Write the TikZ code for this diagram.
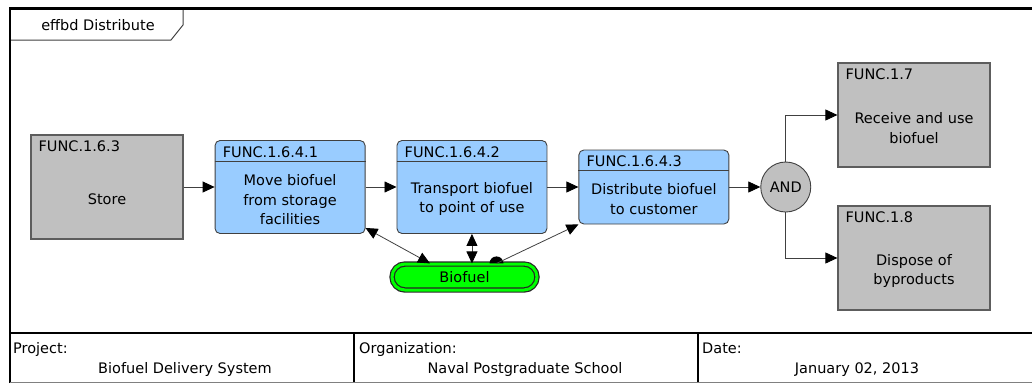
\documentclass[tikz,border=0pt]{standalone}
\usepackage{fontspec}
\setmainfont{DejaVu Sans}
\usetikzlibrary{arrows.meta,positioning,calc}
\definecolor{funcblue}{RGB}{153,204,255}
\definecolor{funcgray}{RGB}{192,192,192}
\definecolor{itemgreen}{RGB}{0,255,0}
\definecolor{edgegray}{RGB}{64,64,64}
\newcommand\diagfont{\fontsize{14.5pt}{19.5pt}\selectfont}
\tikzset{
  graybox/.style={draw=edgegray!85,fill=funcgray,line width=1.2pt,
    minimum width=152pt,minimum height=104pt,inner sep=0pt},
  bluebox/.style={draw=edgegray,fill=funcblue,rounded corners=5pt,line width=0.9pt,
    minimum width=150pt,minimum height=93pt,inner sep=0pt},
  funcid/.style={anchor=north west,inner xsep=8pt,inner ysep=6pt,font=\diagfont},
  functext/.style={align=center,font=\diagfont,inner sep=0pt},
  hdrline/.style={draw=edgegray,line width=0.9pt},
  andgate/.style={circle,draw=edgegray,fill=funcgray,line width=0.9pt,
    minimum size=50pt,inner sep=0pt,font=\diagfont},
  itembox/.style={draw=black!85,double=itemgreen,double distance=3pt,line width=1.2pt,
    fill=itemgreen,rounded corners=13pt,minimum width=145pt,minimum height=26pt,font=\diagfont},
  flowarrow/.style={-{Triangle[length=12pt,width=11pt,color=black]},draw=edgegray,line width=0.8pt},
  bothflow/.style={{Triangle[length=12pt,width=11pt,color=black]}-{Triangle[length=12pt,width=11pt,color=black]},
    draw=edgegray,line width=0.8pt},
  frameline/.style={draw=black,line width=2.5pt},
  tabline/.style={draw=edgegray,line width=1pt,fill=white},
  footline/.style={draw=black,line width=2pt},
  footlabel/.style={anchor=base west,font=\diagfont,inner sep=0pt},
  footval/.style={anchor=base,font=\diagfont,inner sep=0pt},
}
\begin{document}
\begin{tikzpicture}[x=1pt,y=-1pt,node distance=31pt]
    \useasboundingbox (0,0) rectangle (1032,383);
    \draw[tabline] (10,8.5) -- (183,8.5) -- (183,25) -- (171,40) -- (10,40);
    \node[functext] (title) at (98,25) {effbd Distribute};
    \draw[frameline] (10,383) -- (10,8.5) -- (1045,8.5);
    \draw[footline] (10,333) -- (1045,333);
    \draw[footline] (354,333) -- (354,383);
    \draw[footline] (698,333) -- (698,383);
    \draw[draw=gray,line width=1pt] (10,382.5) -- (1045,382.5);
    \node[footlabel] (projlbl) at (13,353) {Project:};
    \node[footval] (projval) at (185,373) {Biofuel Delivery System};
    \node[footlabel] (orglbl) at (359,353) {Organization:};
    \node[footval] (orgval) at (525,373) {Naval Postgraduate School};
    \node[footlabel] (datelbl) at (702,353) {Date:};
    \node[footval] (dateval) at (857,373) {January 02, 2013};

    \node[graybox] (f163) at (107,187) {};
    \node[bluebox,right=of f163] (f41) {};
    \node[bluebox,right=of f41] (f42) {};
    \node[bluebox,right=of f42,minimum height=74pt] (f43) {};
    \node[andgate,right=of f43] (andg) {AND};
    \node[graybox] (f17) at (914,115) {};
    \node[graybox] (f18) at (914,258) {};
    \node[itembox] (bio) at (464.5,277) {Biofuel};

    \draw[hdrline] ([yshift=-21pt]f41.north west) -- ([yshift=-21pt]f41.north east);
    \draw[hdrline] ([yshift=-21pt]f42.north west) -- ([yshift=-21pt]f42.north east);
    \draw[hdrline] ([yshift=-21pt]f43.north west) -- ([yshift=-21pt]f43.north east);

    \node[funcid] (f163id) at (f163.north west) {FUNC.1.6.3};
    \node[funcid] (f41id) at (f41.north west) {FUNC.1.6.4.1};
    \node[funcid] (f42id) at (f42.north west) {FUNC.1.6.4.2};
    \node[funcid] (f43id) at (f43.north west) {FUNC.1.6.4.3};
    \node[funcid] (f17id) at (f17.north west) {FUNC.1.7};
    \node[funcid] (f18id) at (f18.north west) {FUNC.1.8};

    \node[functext] (f163txt) at ([yshift=-12pt]f163.center) {Store};
    \node[functext] (f41txt) at ([yshift=-13pt]f41.center) {Move biofuel\\from storage\\facilities};
    \node[functext] (f42txt) at ([yshift=-12pt]f42.center) {Transport biofuel\\to point of use};
    \node[functext] (f43txt) at ([yshift=-12pt]f43.center) {Distribute biofuel\\to customer};
    \node[functext] (f17txt) at ([yshift=-13pt]f17.center) {Receive and use\\biofuel};
    \node[functext] (f18txt) at ([yshift=-13pt]f18.center) {Dispose of\\byproducts};

    \draw[flowarrow] (f163) -- (f41);
    \draw[flowarrow] (f41) -- (f42);
    \draw[flowarrow] (f42) -- (f43);
    \draw[flowarrow] (f43) -- (andg);
    \draw[flowarrow] (andg.north) |- (f17.west);
    \draw[flowarrow] (andg.south) |- (f18.west);

    \draw[bothflow] ($(bio.north)+(-34.5,0)$) -- ($(f41.south east)+(0,-6)$);
    \draw[bothflow] (f42.south) -- (f42.south |- bio.north);
    \coordinate (biodot) at ($(bio.north)+(32,0)$);
    \fill[black] (biodot) ++(-7pt,0) arc[start angle=180,end angle=0,radius=7pt] -- cycle;
    \draw[flowarrow] (biodot) -- (f43.south west);
\end{tikzpicture}
\end{document}
